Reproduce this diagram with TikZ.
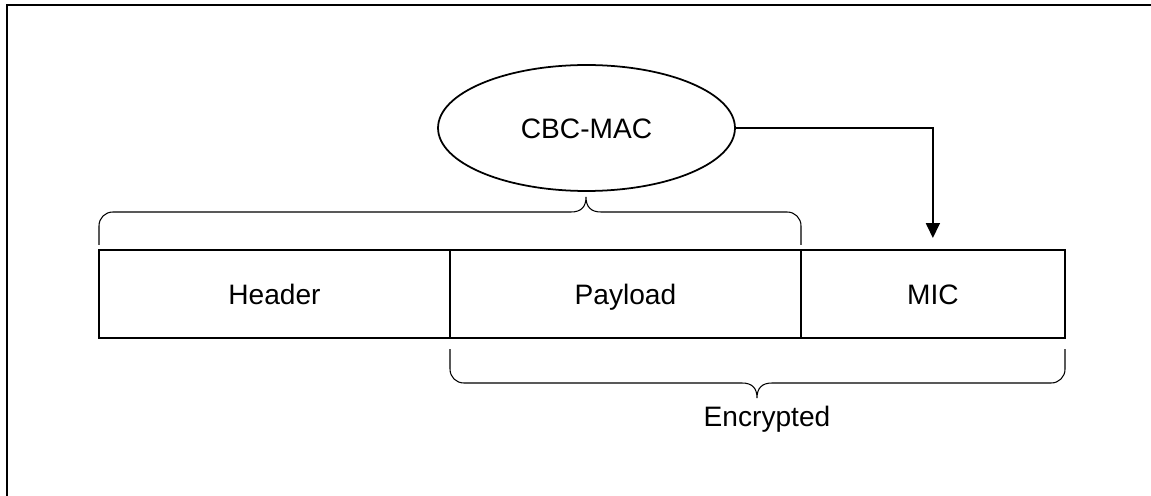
\documentclass[tikz,border=0pt]{standalone}
\usepackage{fontspec}
\setmainfont{Liberation Sans}
\usetikzlibrary{positioning,shapes.geometric,arrows.meta}

\begin{document}
\begin{tikzpicture}[x=0.02cm, y=-0.02cm,
  label/.style={font=\fontsize{16}{19}\selectfont, text height=11.5pt, text depth=0pt},
  field/.style={draw, rectangle, line width=1pt, minimum height=1.76cm, inner sep=0pt, outer sep=0pt, label},
  brace/.style={draw, line width=0.6pt}]
\useasboundingbox (0,0) rectangle (1151,496);
\draw[line width=1.7pt] (7,496) |- (1151,5);

\node[field, minimum width=7.02cm] (header) at (274.5,294) {Header};
\node[field, minimum width=7.02cm, right=0pt of header] (payload) {Payload};
\node[field, minimum width=5.28cm, right=0pt of payload] (mic) {MIC};
\node[draw, ellipse, line width=1pt, minimum width=5.94cm, minimum height=2.52cm, inner sep=0pt, label] (mac) at (586.5,128) {CBC-MAC};
\node[label, anchor=base] (enc) at (767,426) {Encrypted};

\draw[line width=1pt, -{Triangle[width=0.28cm,length=0.3cm]}, shorten >=0.24cm] (mac.east) -| (mic.north);

% braces
\draw[brace] (99,245) -- (99,226) .. controls (99,218) and (105,212) .. (113,212) -- (571,212)
  .. controls (581,212) and (586,207) .. (586,197) .. controls (586,207) and (591,212) .. (601,212)
  -- (787,212) .. controls (795,212) and (801,218) .. (801,226) -- (801,245);
\draw[brace] (450,349) -- (450,369) .. controls (450,377) and (456,383) .. (464,383) -- (742,383)
  .. controls (752,383) and (757,388) .. (757,398) .. controls (757,388) and (762,383) .. (772,383)
  -- (1051,383) .. controls (1059,383) and (1065,377) .. (1065,369) -- (1065,349);
\end{tikzpicture}
\end{document}
